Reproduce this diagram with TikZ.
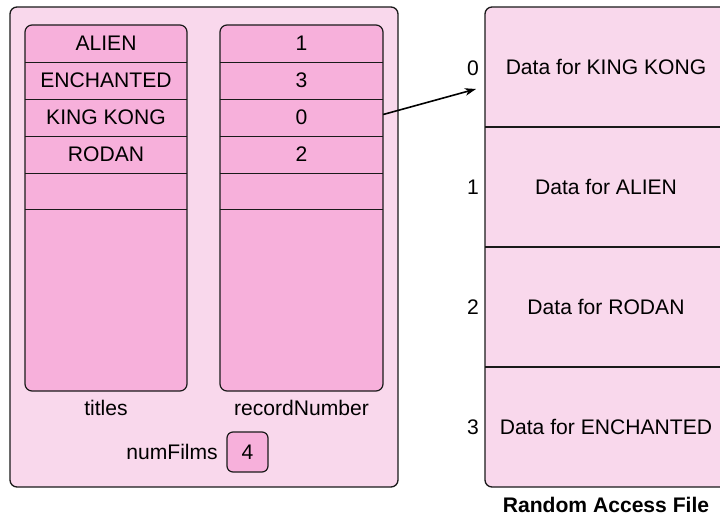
\documentclass[tikz,border=0pt]{standalone}
\usepackage{fontspec}
\setmainfont{Liberation Sans}
\usetikzlibrary{arrows.meta}
\definecolor{lightpink}{HTML}{F9D8EC}
\definecolor{cellpink}{HTML}{F7B0DB}
\definecolor{edgecol}{HTML}{1A1A1A}
\begin{document}
\begin{tikzpicture}[x=1pt,y=-1pt,
  panel/.style={draw=edgecol, line width=1.3pt, fill=lightpink, rounded corners=7pt},
  column/.style={draw=edgecol, line width=1.2pt, fill=cellpink, rounded corners=7pt},
  sep/.style={draw=edgecol, line width=1.2pt},
  txt/.style={font=\fontsize{21.1}{24}\selectfont, inner sep=0pt, text=black},
  cellbox/.style={txt, minimum width=162pt, minimum height=37pt},
  rec/.style={txt, minimum width=240pt, minimum height=120pt},
  link/.style={draw=black, line width=1.6pt, -{Stealth[length=11pt,width=7.5pt,inset=3pt]}}
]
\useasboundingbox (0,0) rectangle (720,521);
\clip (0,0) rectangle (720,521);

% left panel
\draw[panel] (10,7) rectangle (398,487);
\draw[column] (25,25) rectangle (187,391);
\draw[column] (220,25) rectangle (383,391);

% titles cells
\node[cellbox] (t0) at (106,43.5)  {ALIEN};
\node[cellbox] (t1) at (106,80.5)  {ENCHANTED};
\node[cellbox] (t2) at (106,117.5) {KING KONG};
\node[cellbox] (t3) at (106,154.5) {RODAN};
\node[cellbox] (t4) at (106,191)   {};
\foreach \n in {t0,t1,t2,t3,t4} \draw[sep] (\n.south west) -- (\n.south east);

% recordNumber cells
\node[cellbox, minimum width=163pt] (r0) at (301.5,43.5)  {1};
\node[cellbox, minimum width=163pt] (r1) at (301.5,80.5)  {3};
\node[cellbox, minimum width=163pt] (r2) at (301.5,117.5) {0};
\node[cellbox, minimum width=163pt] (r3) at (301.5,154.5) {2};
\node[cellbox, minimum width=163pt] (r4) at (301.5,191)   {};
\foreach \n in {r0,r1,r2,r3,r4} \draw[sep] (\n.south west) -- (\n.south east);

\node[txt] (titlesl) at (106,408) {titles};
\node[txt] (recl) at (301.5,408) {recordNumber};
\node[txt, anchor=east] (numl) at (218,452) {numFilms};
\node[txt, draw=edgecol, line width=1.2pt, fill=cellpink, rounded corners=6pt,
      minimum width=41pt, minimum height=40pt] (numv) at (247.5,452) {4};

% random access file
\draw[panel] (485,7) rectangle (730,487);
\node[rec] (f0) at (606,67)  {Data for KING KONG};
\node[rec] (f1) at (606,187) {Data for ALIEN};
\node[rec] (f2) at (606,307) {Data for RODAN};
\node[rec] (f3) at (606,427) {Data for ENCHANTED};
\draw[sep] (485,127) -- (730,127);
\draw[sep] (485,247) -- (730,247);
\draw[sep] (485,367) -- (730,367);
\node[txt] (i0) at (473,68)  {0};
\node[txt] (i1) at (473,187) {1};
\node[txt] (i2) at (473,307) {2};
\node[txt] (i3) at (473,427) {3};
\node[txt, font=\fontsize{21.1}{24}\selectfont\bfseries] (rafl) at (606,505) {Random Access File};

\coordinate (target) at (476,89);
\draw[link] ([yshift=3pt]r2.east) -- (target);
\end{tikzpicture}
\end{document}
